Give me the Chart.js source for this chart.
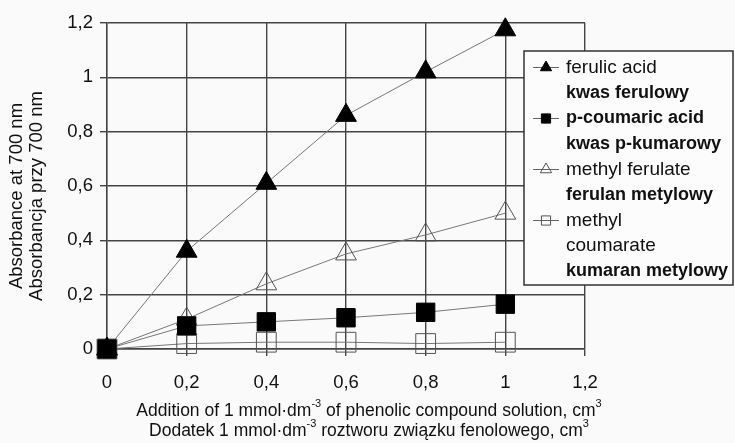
<!DOCTYPE html>
<html>
<head>
<meta charset="utf-8">
<script src="https://cdn.jsdelivr.net/npm/chart.js@4.4.1/dist/chart.umd.min.js"></script>
<style>
  html, body { margin: 0; padding: 0; background: #fafafa; }
</style>
</head>
<body>
<canvas id="chart" width="735" height="443"></canvas>
<script>
// volume of phenolic compound solution added, cm3
const additions = [0, 0.2, 0.4, 0.6, 0.8, 1];

// absorbance at 700 nm
const ferulicAcid = [0, 0.36, 0.61, 0.86, 1.02, 1.175];
const pCoumaricAcid = [0, 0.085, 0.1, 0.115, 0.135, 0.165];
const methylFerulate = [0, 0.11, 0.24, 0.35, 0.42, 0.5];
const methylCoumarate = [0, 0.02, 0.025, 0.025, 0.02, 0.025];

const xTickLabels = ["0", "0,2", "0,4", "0,6", "0,8", "1", "1,2"];
const yTickLabels = ["0", "0,2", "0,4", "0,6", "0,8", "1", "1,2"];

const legendLines = [
  ["ferulic acid", "kwas ferulowy"],
  ["p-coumaric acid", "kwas p-kumarowy"],
  ["methyl ferulate", "ferulan metylowy"],
  ["methyl", "coumarate", "kumaran metylowy"],
];
const legendBold = [
  [false, true],
  [true, true],
  [false, true],
  [false, false, true],
];

const yTitle = ["Absorbance at 700 nm", "Absorbancja przy 700 nm"];
const xTitle = [
  ["Addition of 1 mmol·dm", "-3", " of phenolic compound solution, cm", "3"],
  ["Dodatek 1 mmol·dm", "-3", " roztworu związku fenolowego, cm", "3"],
];

const FONT = '"Liberation Sans", Arial, Helvetica, sans-serif';
const GRID = "#444";

const toPoints = (ys) => ys.map((y, i) => ({ x: additions[i], y }));

// titles and the boxed legend are drawn by hand, the original has them off-center
const decorations = {
  id: "decorations",
  afterDraw(chart) {
    const ctx = chart.ctx;
    ctx.save();

    // y title, two rotated lines
    ctx.fillStyle = "#111";
    ctx.font = `18.5px ${FONT}`;
    ctx.textAlign = "center";
    ctx.textBaseline = "middle";
    yTitle.forEach((line, i) => {
      ctx.save();
      ctx.translate(17 + i * 20, 196);
      ctx.rotate(-Math.PI / 2);
      ctx.fillText(line, 0, 0);
      ctx.restore();
    });

    // x title, with superscripts
    ctx.textAlign = "left";
    xTitle.forEach((runs, i) => {
      const y = 411 + i * 20;
      let total = 0;
      runs.forEach((t, k) => {
        ctx.font = k % 2 ? `11px ${FONT}` : `17.5px ${FONT}`;
        total += ctx.measureText(t).width;
      });
      let x = 369 - total / 2;
      runs.forEach((t, k) => {
        ctx.font = k % 2 ? `11px ${FONT}` : `17.5px ${FONT}`;
        ctx.fillText(t, x, k % 2 ? y - 7 : y);
        x += ctx.measureText(t).width;
      });
    });

    // legend box
    ctx.fillStyle = "#fcfcfc";
    ctx.strokeStyle = "#333";
    ctx.lineWidth = 1.5;
    ctx.fillRect(524, 51, 209, 234);
    ctx.strokeRect(524, 51, 209, 234);

    let y = 67.5;
    chart.data.datasets.forEach((ds, i) => {
      ctx.strokeStyle = "#666";
      ctx.lineWidth = 1;
      ctx.beginPath();
      ctx.moveTo(533, y);
      ctx.lineTo(559, y);
      ctx.stroke();
      ctx.fillStyle = ds.pointBackgroundColor;
      ctx.strokeStyle = ds.pointBorderColor;
      Chart.helpers.drawPoint(ctx, {
        pointStyle: ds.pointStyle,
        radius: 6.5,
        borderWidth: 1,
      }, 546, y);
      legendLines[i].forEach((text, j) => {
        ctx.fillStyle = "#111";
        ctx.font = legendBold[i][j] ? `bold 18px ${FONT}` : `19px ${FONT}`;
        ctx.textBaseline = "middle";
        ctx.fillText(text, 566, y);
        y += 25.5;
      });
    });

    ctx.restore();
  },
};

const series = (label, data, style, filled, order) => ({
  label,
  data: toPoints(data),
  order,
  clip: false,
  showLine: true,
  borderColor: "#777",
  borderWidth: 1,
  pointStyle: style,
  pointRadius: style === "triangle" ? 12 : (filled ? 13 : 14),
  pointBackgroundColor: filled ? "#000" : "rgba(0,0,0,0)",
  pointBorderColor: filled ? "#000" : "#555",
  pointBorderWidth: 1,
});

new Chart(document.getElementById("chart"), {
  type: "scatter",
  data: {
    datasets: [
      series("ferulic acid", ferulicAcid, "triangle", true, 1),
      series("p-coumaric acid", pCoumaricAcid, "rect", true, 0),
      series("methyl ferulate", methylFerulate, "triangle", false, 2),
      series("methyl coumarate", methylCoumarate, "rect", false, 3),
    ],
  },
  options: {
    responsive: false,
    animation: false,
    devicePixelRatio: 1,
    layout: { padding: { top: 23, right: 150, left: 0, bottom: 0 } },
    plugins: {
      legend: { display: false },
      tooltip: { enabled: false },
    },
    scales: {
      x: {
        type: "linear",
        min: 0,
        max: 1.2,
        afterFit: (scale) => { scale.height = 94; },
        ticks: {
          stepSize: 0.2,
          padding: 16,
          color: "#111",
          font: { family: FONT, size: 18.5 },
          callback: (value, index) => xTickLabels[index],
        },
        grid: { color: GRID, lineWidth: 1.4, tickLength: 7 },
        border: { color: GRID, width: 1.4 },
      },
      y: {
        min: 0,
        max: 1.2,
        afterFit: (scale) => { scale.width = 107; },
        ticks: {
          stepSize: 0.2,
          padding: 7,
          color: "#111",
          font: { family: FONT, size: 18.5 },
          callback: (value, index) => yTickLabels[index],
        },
        grid: { color: GRID, lineWidth: 1.4, tickLength: 7 },
        border: { color: GRID, width: 1.4 },
      },
    },
  },
  plugins: [decorations],
});
</script>
</body>
</html>
